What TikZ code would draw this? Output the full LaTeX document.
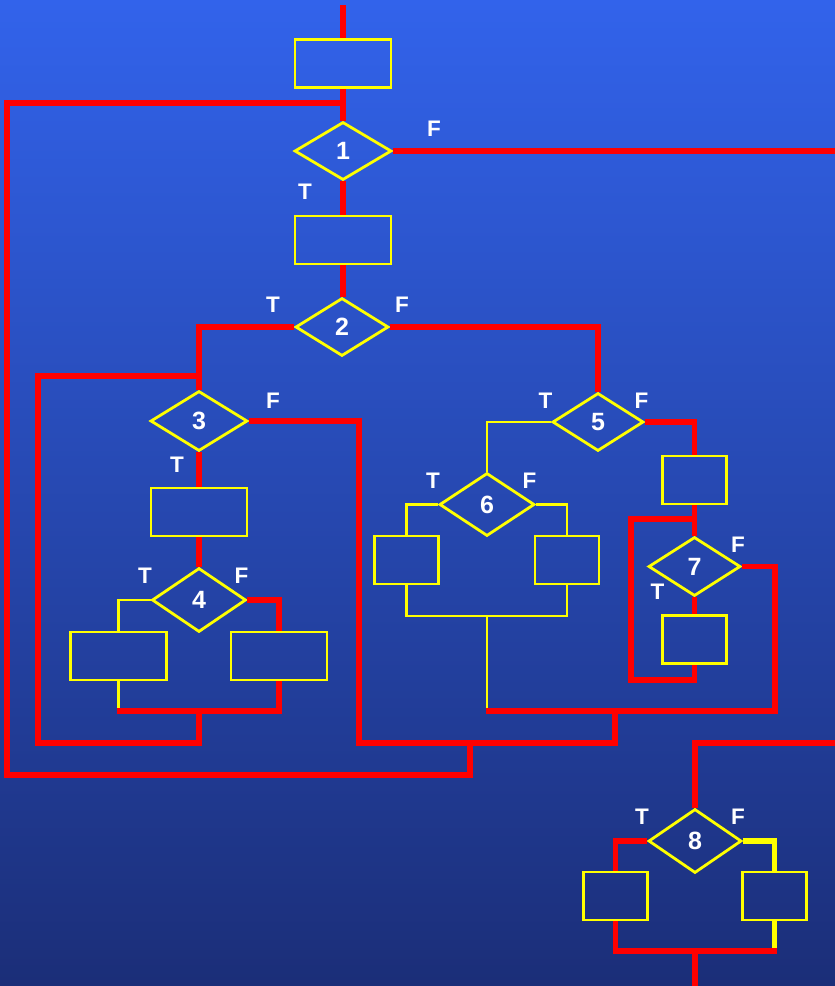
\documentclass[tikz,border=0pt]{standalone}
\usepackage{fontspec}
\setmainfont{Liberation Sans}
\usetikzlibrary{shapes.geometric}
\definecolor{bgtop}{RGB}{50,99,235}
\definecolor{bgbot}{RGB}{27,46,120}
\definecolor{ry}{RGB}{255,0,0}
\definecolor{yl}{RGB}{255,255,0}
\begin{document}
\begin{tikzpicture}[x=1pt,y=-1pt,
 redl/.style={draw=ry, line width=5.5pt},
 yell/.style={draw=yl, line width=2.8pt},
 yelthick/.style={draw=yl, line width=5.5pt},
 bigbox/.style={draw=yl, line width=2.8pt, minimum width=96pt, minimum height=48pt, inner sep=0pt},
 smallbox/.style={draw=yl, line width=2.8pt, minimum width=64pt, minimum height=48pt, inner sep=0pt},
 dia/.style={diamond, draw=yl, line width=2.8pt, inner sep=0pt, minimum width=95pt, minimum height=60pt, text=white, font=\bfseries\fontsize{25}{25}\selectfont},
 lab/.style={text=white, font=\bfseries\fontsize{22.5}{22.5}\selectfont, inner sep=0pt}]
\shade[top color=bgtop, bottom color=bgbot] (0,0) rectangle (835,986);
\useasboundingbox (0,0) rectangle (835,986);

% nodes
\node[bigbox] (A) at (343,63.5) {};
\node[dia, minimum width=97pt, minimum height=58pt] (D1) at (343,151) {1};
\node[bigbox] (B) at (343,240) {};
\node[dia, minimum width=93pt, minimum height=58pt] (D2) at (342,327) {2};
\node[dia, minimum width=97pt, minimum height=60pt] (D3) at (199,421) {3};
\node[bigbox] (C) at (199,512) {};
\node[dia, minimum width=94pt, minimum height=64pt] (D4) at (199,600) {4};
\node[bigbox] (D) at (118.5,656) {};
\node[bigbox] (E) at (279,656) {};
\node[dia, minimum width=91pt, minimum height=58pt] (D5) at (598,422) {5};
\node[dia, minimum width=95pt, minimum height=63pt] (D6) at (487,504.5) {6};
\node[smallbox] (F) at (406.5,560) {};
\node[smallbox] (G) at (567,560) {};
\node[smallbox] (H) at (694.5,480) {};
\node[dia, minimum width=92pt, minimum height=59pt] (D7) at (694.5,566.5) {7};
\node[smallbox] (I) at (694.5,639.5) {};
\node[dia, minimum width=93pt, minimum height=64pt] (D8) at (695,841) {8};
\node[smallbox] (J) at (615.5,896) {};
\node[smallbox] (K) at (774.5,896) {};

% coordinates
\coordinate (top) at (343,5);
\coordinate (j1) at (343,103);
\coordinate (exit1) at (835,151);
\coordinate (j3) at (199,376);
\coordinate (m4) at (199,711);
\coordinate (o1) at (470,743);
\coordinate (m6) at (487,616);
\coordinate (m5) at (615,711);
\coordinate (j7) at (694.5,519);
\coordinate (exit2) at (835,743);
\coordinate (m8) at (695,951);
\coordinate (bot) at (695,986);

% connectors
\draw[redl] (top) -- (A.north);
\draw[redl] (A.south) -- (A.south |- D1.north);
\draw[redl] (j1) -- (7,103) -- (7,775) -- (470,775) -- (o1);
\draw[redl] (D1.east) -- (exit1);
\draw[redl] (D1.south) -- (B.north);
\draw[redl] (B.south) -- (B.south |- D2.north);
\draw[redl] (D2.west) -| (D3.north);
\draw[redl] (D2.east) -| (D5.north);
\draw[redl] (j3) -| (38,743) -| (m4);
\draw[redl] (D3.south) -- (C.north);
\draw[redl] (C.south) -- (D4.north);
\draw[yell] (D4.west) -| (D.north);
\draw[redl] (D4.east) -| (E.north);
\draw[yell] (D.south) -- (D.south |- m4);
\draw[redl] ([xshift=-1.5pt]D.south |- m4) -- (E.south |- m4) -- (E.south);
\draw[redl] (D3.east) -| (359,743) -| (m5);
\draw[yell] (D5.west) -| (D6.north);
\draw[yell] (D6.west) -| (F.north);
\draw[yell] (D6.east) -| (G.north);
\draw[yell] (F.south) |- (m6) -| (G.south);
\draw[yell] (m6) -- (m6 |- m5);
\draw[redl] ([xshift=-1.5pt]m6 |- m5) -- (775,711) |- (D7.east);
\draw[redl] (D5.east) -| (H.north);
\draw[redl] (H.south) -- (D7.north);
\draw[redl] (j7) -| (631,680) -| (I.south);
\draw[redl] (D7.south) -- (I.north);
\draw[redl] (exit2) -| (D8.north);
\draw[redl] (D8.west) -| (J.north);
\draw[yelthick] (D8.east) -| (K.north);
\draw[yelthick] (K.south) -- (K.south |- m8);
\draw[redl] (J.south) |- (777,951);
\draw[redl] (m8) -- (bot);

% labels
\node[lab] (lf1) at (434,128.5) {F};
\node[lab] (lt1) at (305,192) {T};
\node[lab] (lt2) at (273,305) {T};
\node[lab] (lf2) at (402,305) {F};
\node[lab] (lf3) at (273,401) {F};
\node[lab] (lt3) at (177,465) {T};
\node[lab] (lt4) at (145,576) {T};
\node[lab] (lf4) at (241.5,576) {F};
\node[lab] (lt5) at (545.5,401) {T};
\node[lab] (lf5) at (641.5,401) {F};
\node[lab] (lt6) at (433,481) {T};
\node[lab] (lf6) at (529.5,481) {F};
\node[lab] (lf7) at (738,544.5) {F};
\node[lab] (lt7) at (657.5,592) {T};
\node[lab] (lt8) at (642,816.5) {T};
\node[lab] (lf8) at (738,816.5) {F};
\end{tikzpicture}
\end{document}
